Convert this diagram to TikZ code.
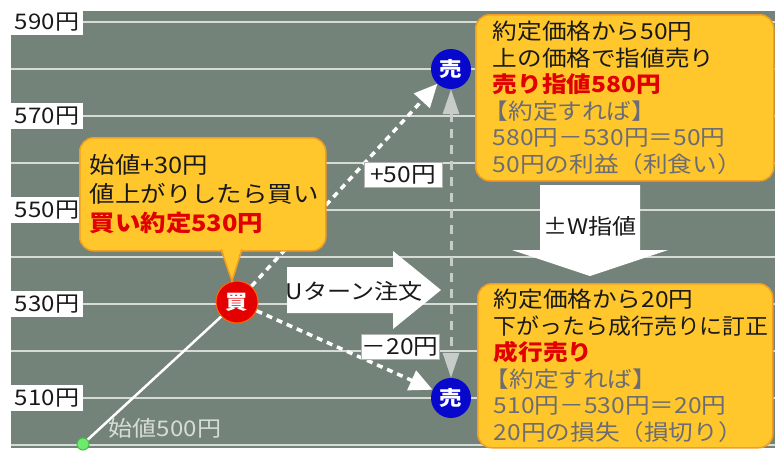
\documentclass[tikz,border=0pt]{standalone}
\usepackage{fontspec}
\usepackage{graphicx}
\setmainfont[FakeStretch=1.12]{Noto Sans CJK JP}
\usetikzlibrary{arrows.meta}
\definecolor{bgc}{RGB}{116,131,121}
\definecolor{gridc}{RGB}{214,219,214}
\definecolor{yel}{RGB}{255,199,44}
\definecolor{bord}{RGB}{242,158,35}
\definecolor{redt}{RGB}{225,0,0}
\definecolor{grayt}{RGB}{108,108,116}
\definecolor{blackt}{RGB}{25,25,25}
\definecolor{buyred}{RGB}{228,0,0}
\definecolor{sellblue}{RGB}{8,8,205}
\definecolor{vgray}{RGB}{200,204,200}
\definecolor{lightt}{RGB}{215,220,215}
\definecolor{greenf}{RGB}{110,235,110}
\definecolor{greend}{RGB}{70,190,70}
\begin{document}
\begin{tikzpicture}[x=1pt,y=-1pt,
  ylab/.style={fill=white, minimum width=72pt, minimum height=26pt, inner sep=0pt, text=blackt, font=\fontsize{21.5}{22}\selectfont},
  gridline/.style={draw=gridc, line width=2pt},
  yelbox/.style={fill=yel, draw=bord, line width=1.5pt, rounded corners=14pt, anchor=north west, align=left, inner ysep=0pt, text=blackt},
  wdash/.style={draw=white, line width=3.5pt, dash pattern=on 6pt off 5pt, -{Triangle[length=23pt,width=21pt]}},
  vdash/.style={draw=vgray, line width=3pt, dash pattern=on 9pt off 7pt, {Triangle[length=25pt,width=16pt]}-{Triangle[length=25pt,width=16pt]}},
  dlab/.style={fill=white, draw=gray!60, line width=0.6pt, minimum width=78pt, minimum height=25pt, inner sep=0pt, text=blackt, font=\fontsize{22}{22}\selectfont},
  buyc/.style={circle, fill=buyred, draw=orange!80!red, line width=1pt, minimum size=42pt, inner sep=0pt, text=white, font=\fontsize{20}{20}\selectfont\bfseries},
  sellc/.style={circle, fill=sellblue, minimum size=40pt, inner sep=0pt, text=white, font=\fontsize{20}{20}\selectfont\bfseries},
  arrowtext/.style={text=blackt, font=\fontsize{21.5}{22}\selectfont, inner sep=0pt}
]
\useasboundingbox (0,0) rectangle (775,450);
\fill[bgc] (11,11) rectangle (775,448);
\foreach \yy in {22,69,...,445} \draw[gridline] (11,\yy) -- (775,\yy);
% axis labels
\node[ylab] (l590) at (47,22) {590円};
\node[ylab] (l570) at (47,116) {570円};
\node[ylab] (l550) at (47,210) {550円};
\node[ylab] (l530) at (47,304) {530円};
\node[ylab] (l510) at (47,398) {510円};
% points
\node[circle, fill=greenf, draw=greend, line width=1pt, minimum size=12pt, inner sep=0pt] (start) at (83,444) {};
\node[buyc] (buy) at (237,302) {買};
\node[sellc] (sellup) at (451,69) {売};
\node[sellc] (selldn) at (451,398) {売};
% connectors
\draw[white, line width=2.5pt] (start) -- (buy);
\draw[wdash] (buy) -- (sellup);
\draw[wdash] (buy) -- (selldn);
\draw[vdash] (sellup) -- (selldn);
% big arrows
\fill[white] (287,267) -- (393,267) -- (393,251) -- (441,290) -- (393,329) -- (393,313) -- (287,313) -- cycle;
\node[arrowtext] (uturn) at (354,291) {Uターン注文};
\fill[white] (540,185) -- (640,185) -- (640,250) -- (668,250) -- (590,276) -- (512,250) -- (540,250) -- cycle;
\node[arrowtext] (wsashi) at (590,226) {±W指値};
% boxes
\node[yelbox, inner xsep=10pt, text width=226pt, minimum height=113pt, font=\fontsize{22.7}{29}\selectfont] (buybox) at (79,137)
  {始値+30円\\
   値上がりしたら買い\\
   \textcolor{redt}{\bfseries 買い約定530円}};
\fill[yel] (221,246) -- (242,246) -- (232,281) -- cycle;
\draw[bord, line width=1.5pt] (221,249.3) -- (232,281) -- (242,249.3);
\node[yelbox, inner xsep=17pt, text width=264pt, minimum height=166pt, font=\fontsize{22}{26.5}\selectfont] (topbox) at (475,14)
  {約定価格から50円\\
   上の価格で指値売り\\
   \textcolor{redt}{\bfseries 売り指値580円}\\
   \textcolor{grayt}{\kern-9pt【約定すれば】}\\
   \textcolor{grayt}{580円－530円＝50円}\\
   \textcolor{grayt}{50円の利益（利食い）}};
\node[yelbox, inner xsep=16pt, text width=263pt, minimum height=164pt, font=\fontsize{22}{26.5}\selectfont] (botbox) at (477,283)
  {約定価格から20円\\
   \scalebox{0.93}[1]{下がったら成行売りに訂正}\\
   \textcolor{redt}{\bfseries 成行売り}\\
   \textcolor{grayt}{\kern-9pt【約定すれば】}\\
   \textcolor{grayt}{510円－530円＝20円}\\
   \textcolor{grayt}{20円の損失（損切り）}};
% difference labels
\node[dlab] (p50) at (403,175) {+50円};
\node[dlab] (m20) at (400,347) {－20円};
\node[text=lightt, font=\fontsize{21.5}{22}\selectfont, inner sep=0pt] (starttxt) at (165,428) {始値500円};
\end{tikzpicture}
\end{document}
